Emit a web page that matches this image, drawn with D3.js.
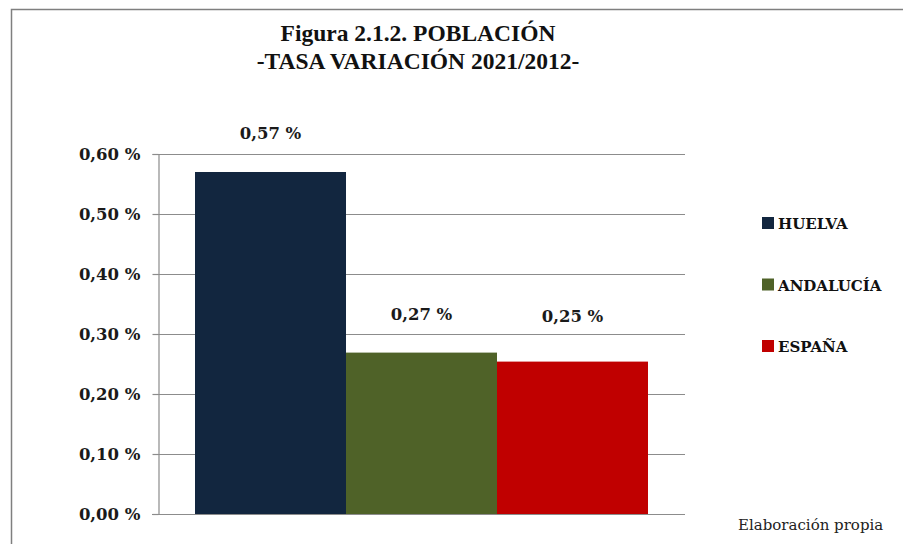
<!DOCTYPE html>
<html>
<head>
<meta charset="utf-8">
<script src="https://cdn.jsdelivr.net/npm/d3@7"></script>
<style>
  body { margin: 0; background: #fff; }
  svg { display: block; }
  text { font-family: "DejaVu Serif", "Liberation Serif", serif; }
</style>
</head>
<body>
<div id="chart"></div>
<script>
// data
var regiones = ["HUELVA", "ANDALUCÍA", "ESPAÑA"];
var tasas = [0.57, 0.269, 0.254];
var colores = ["#12263f", "#4f6228", "#c00000"];
var ticksY = [0, 0.1, 0.2, 0.3, 0.4, 0.5, 0.6];
var titulo = ["Figura 2.1.2. POBLACIÓN", "-TASA VARIACIÓN 2021/2012-"];
var fuente = "Elaboración propia";

var W = 904, H = 544;
var plot = { left: 158, right: 685, top: 154, bottom: 514 };

var svg = d3.select("#chart").append("svg")
    .attr("width", W)
    .attr("height", H);

// outer frame (only top and left are visible)
svg.append("path")
    .attr("d", "M11.5,544 V9.5 H903")
    .style("fill", "none")
    .style("stroke", "#7f7f7f")
    .style("stroke-width", 1.5);

var y = d3.scaleLinear()
    .domain([0, 0.6])
    .range([plot.bottom, plot.top]);

// one category, three series side by side
var grupo = d3.scaleBand()
    .domain(["cat"])
    .range([plot.left, plot.right])
    .paddingInner(0)
    .paddingOuter(0.0817);

var x = d3.scaleBand()
    .domain(regiones)
    .range([grupo("cat"), grupo("cat") + grupo.bandwidth()]);

var fmt = function (v) {
  return d3.format(".2f")(v).replace(".", ",") + " %";
};

// gridlines
svg.append("g")
    .selectAll("line")
    .data(ticksY.filter(function (t) { return t > 0; }))
    .enter().append("line")
      .attr("x1", plot.left)
      .attr("x2", plot.right)
      .attr("y1", function (d) { return Math.round(y(d)) + 0.5; })
      .attr("y2", function (d) { return Math.round(y(d)) + 0.5; })
      .style("stroke", "#8c8c8c")
      .style("stroke-width", 1.2);

// bars
svg.append("g")
    .selectAll("rect")
    .data(regiones)
    .enter().append("rect")
      .attr("x", function (d) { return x(d); })
      .attr("y", function (d, i) { return y(tasas[i]); })
      .attr("width", x.bandwidth())
      .attr("height", function (d, i) { return plot.bottom - y(tasas[i]); })
      .style("fill", function (d, i) { return colores[i]; });

// data labels
svg.append("g")
    .selectAll("text")
    .data(regiones)
    .enter().append("text")
      .attr("x", function (d) { return x(d) + x.bandwidth() / 2; })
      .attr("y", function (d, i) { return Math.min(y(tasas[i]) - 33, 322); })
      .attr("text-anchor", "middle")
      .style("font-size", "16.5px")
      .style("font-weight", "bold")
      .style("fill", "#1a1a1a")
      .text(function (d, i) { return fmt(tasas[i]); });

// y axis
var yAxis = svg.append("g")
    .attr("transform", "translate(" + (plot.left + 0.5) + ",0)")
    .call(d3.axisLeft(y)
      .tickValues(ticksY)
      .tickSize(6)
      .tickPadding(12)
      .tickFormat(fmt));
yAxis.select(".domain").style("stroke", "#8c8c8c").style("stroke-width", 1.2);
yAxis.selectAll(".tick line").style("stroke", "#8c8c8c").style("stroke-width", 1.2);
yAxis.selectAll(".tick text")
    .style("font-family", "'DejaVu Serif', serif")
    .style("font-size", "16.5px")
    .style("font-weight", "bold")
    .style("fill", "#1a1a1a");

// x baseline
svg.append("line")
    .attr("x1", plot.left - 6)
    .attr("x2", plot.right)
    .attr("y1", plot.bottom + 0.5)
    .attr("y2", plot.bottom + 0.5)
    .style("stroke", "#8c8c8c")
    .style("stroke-width", 1.2);

// title
svg.append("g")
    .selectAll("text")
    .data(titulo)
    .enter().append("text")
      .attr("x", 418)
      .attr("y", function (d, i) { return 41 + i * 28; })
      .attr("text-anchor", "middle")
      .style("font-family", "'Liberation Serif', serif")
      .style("font-size", "23.5px")
      .style("font-weight", "bold")
      .style("fill", "#111")
      .text(function (d) { return d; });

// legend
var leyenda = svg.append("g")
    .selectAll("g")
    .data(regiones)
    .enter().append("g")
      .attr("transform", function (d, i) { return "translate(762," + (223 + i * 61.5) + ")"; });

leyenda.append("rect")
    .attr("x", 0)
    .attr("y", -6)
    .attr("width", 12)
    .attr("height", 12)
    .style("fill", function (d, i) { return colores[i]; });

leyenda.append("text")
    .attr("x", 16)
    .attr("y", 6)
    .style("font-size", "15px")
    .style("font-weight", "bold")
    .style("fill", "#111")
    .text(function (d) { return d; });

// source note
svg.append("text")
    .attr("x", 738)
    .attr("y", 530)
    .style("font-size", "15px")
    .style("fill", "#222")
    .text(fuente);
</script>
</body>
</html>
